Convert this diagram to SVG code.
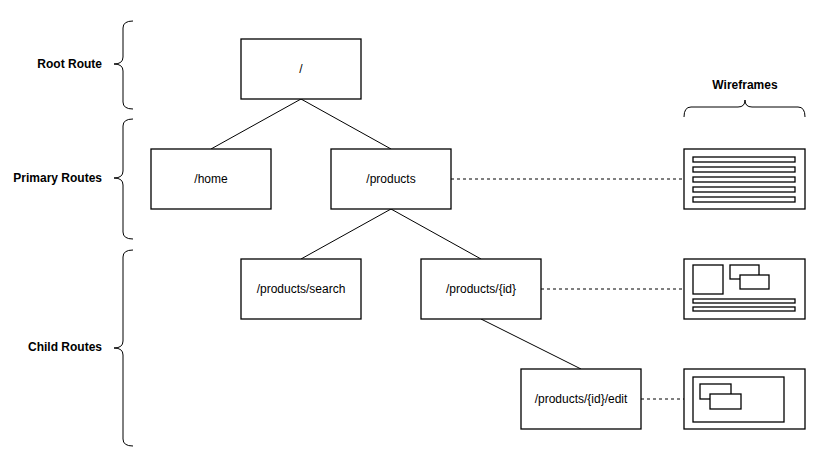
<svg xmlns="http://www.w3.org/2000/svg" width="833" height="467" viewBox="0 0 833 467">
<style>
.node rect{fill:#fff;stroke:#000;stroke-width:1.3}
.node text{font-family:"Liberation Sans",Arial,sans-serif;font-size:12px;fill:#000;text-anchor:middle;dominant-baseline:central}
.lbl{font-family:"Liberation Sans",Arial,sans-serif;font-size:12px;font-weight:bold;fill:#000;dominant-baseline:central}
.edge{stroke:#000;stroke-width:1;fill:none}
.dash{stroke:#000;stroke-width:1;fill:none;stroke-dasharray:3 3}
.brace{stroke:#000;stroke-width:1;fill:none}
.wf rect{fill:#fff;stroke:#000;stroke-width:1.3}
</style>
<rect width="833" height="467" fill="#fff"/>
<g id="braces">
<path class="brace" d="M133,21 Q123,21 123,28 L123,57 Q123,64 114,64 Q123,64 123,71 L123,102 Q123,109 133,109"/>
<path class="brace" d="M133,119 Q123,119 123,126 L123,171 Q123,178 114,178 Q123,178 123,185 L123,232 Q123,239 133,239"/>
<path class="brace" d="M133,250 Q123,250 123,257 L123,341 Q123,348 114,348 Q123,348 123,355 L123,439 Q123,446 133,446"/>
<path class="brace" d="M684,117 Q684,107 691,107 L738,107 Q745,107 745,100 Q745,107 752,107 L798,107 Q805,107 805,117"/>
</g>
<g id="labels">
<text class="lbl" x="102" y="64" text-anchor="end">Root Route</text>
<text class="lbl" x="102" y="178" text-anchor="end">Primary Routes</text>
<text class="lbl" x="102" y="347" text-anchor="end">Child Routes</text>
<text class="lbl" x="745" y="85" text-anchor="middle">Wireframes</text>
</g>
<g id="connectors">
<path class="edge" d="M301,99 L211,149"/>
<path class="edge" d="M301,99 L391,149"/>
<path class="edge" d="M391,209 L301,259"/>
<path class="edge" d="M391,209 L481,259"/>
<path class="edge" d="M481,319 L581,369"/>
<path class="dash" d="M451,179 L684,179"/>
<path class="dash" d="M541,289 L684,289"/>
<path class="dash" d="M641,399 L684,399"/>
</g>
<g id="node-root" class="node"><rect x="241" y="39" width="120" height="60"/><text x="301" y="69">/</text></g>
<g id="node-home" class="node"><rect x="151" y="149" width="120" height="60"/><text x="211" y="179">/home</text></g>
<g id="node-products" class="node"><rect x="331" y="149" width="120" height="60"/><text x="391" y="179">/products</text></g>
<g id="node-search" class="node"><rect x="241" y="259" width="120" height="60"/><text x="301" y="289">/products/search</text></g>
<g id="node-id" class="node"><rect x="421" y="259" width="120" height="60"/><text x="481" y="289">/products/{id}</text></g>
<g id="node-edit" class="node"><rect x="521" y="369" width="120" height="60"/><text x="581" y="399">/products/{id}/edit</text></g>
<g id="wf-list" class="wf">
<rect x="684" y="149" width="121" height="60"/>
<rect x="693" y="157" width="102" height="5"/>
<rect x="693" y="167" width="102" height="5"/>
<rect x="693" y="177" width="102" height="5"/>
<rect x="693" y="187" width="102" height="5"/>
<rect x="693" y="197" width="102" height="5"/>
</g>
<g id="wf-detail" class="wf">
<rect x="684" y="259" width="121" height="60"/>
<rect x="693" y="265" width="30" height="29"/>
<rect x="730" y="265" width="29" height="14"/>
<rect x="740" y="275" width="29" height="14"/>
<rect x="693" y="299" width="102" height="4"/>
<rect x="693" y="307" width="102" height="4"/>
</g>
<g id="wf-edit" class="wf">
<rect x="684" y="369" width="121" height="60"/>
<rect x="693" y="377" width="91" height="45"/>
<rect x="700" y="384" width="31" height="15"/>
<rect x="710" y="394" width="31" height="15"/>
</g>
</svg>
